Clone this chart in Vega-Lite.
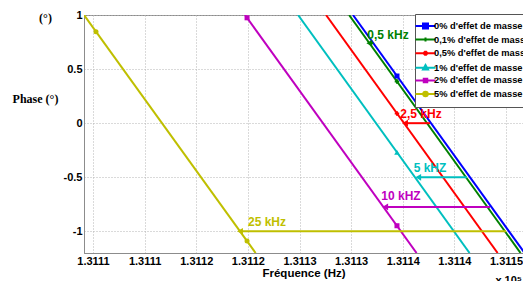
{
  "$schema": "https://vega.github.io/schema/vega-lite/v6.json",
  "autosize": "none",
  "width": 439,
  "height": 238,
  "padding": {"left": 84, "top": 15, "right": 0, "bottom": 28},
  "background": "white",
  "config": {
    "view": {"stroke": "#8c8c8c", "strokeWidth": 1},
    "axis": {
      "domainColor": "#8c8c8c",
      "gridColor": "#b4b4b4",
      "gridDash": [1, 2],
      "ticks": false,
      "labelFont": "Liberation Sans",
      "labelFontWeight": "bold",
      "labelFontSize": 11,
      "labelColor": "black",
      "titleColor": "black"
    },
    "legend": {
      "orient": "none",
      "legendX": 331,
      "legendY": -1,
      "title": null,
      "fillColor": "white",
      "strokeColor": "#555555",
      "padding": 6,
      "symbolSize": 100,
      "symbolStrokeWidth": 2,
      "symbolOffset": -1.5,
      "labelOffset": 2.5,
      "rowPadding": 0.6,
      "labelFont": "Liberation Sans",
      "labelFontWeight": "bold",
      "labelFontSize": 9.3,
      "labelColor": "black",
      "labelLimit": 200
    }
  },
  "datasets": {
    "lines": [
      {"series": "0% d'effet de masse", "freq": 131135.18, "phase": 1},
      {"series": "0% d'effet de masse", "freq": 131151.80, "phase": -1.2},
      {"series": "0,1% d'effet de masse", "freq": 131134.80, "phase": 1},
      {"series": "0,1% d'effet de masse", "freq": 131151.41, "phase": -1.2},
      {"series": "0,5% d'effet de masse", "freq": 131132.57, "phase": 1},
      {"series": "0,5% d'effet de masse", "freq": 131149.19, "phase": -1.2},
      {"series": "1% d'effet de masse", "freq": 131129.86, "phase": 1},
      {"series": "1% d'effet de masse", "freq": 131146.47, "phase": -1.2},
      {"series": "2% d'effet de masse", "freq": 131124.72, "phase": 1},
      {"series": "2% d'effet de masse", "freq": 131141.34, "phase": -1.2},
      {"series": "5% d'effet de masse", "freq": 131109.13, "phase": 1},
      {"series": "5% d'effet de masse", "freq": 131125.75, "phase": -1.2}
    ],
    "markers": [
      {"series": "0% d'effet de masse", "marker": "square", "freq": 131139.44, "phase": 0.436},
      {"series": "0,1% d'effet de masse", "marker": "cross", "freq": 131139.44, "phase": 0.385},
      {"series": "0,5% d'effet de masse", "marker": "cross", "freq": 131139.44, "phase": 0.09},
      {"series": "1% d'effet de masse", "marker": "triangle", "freq": 131139.44, "phase": -0.269},
      {"series": "2% d'effet de masse", "marker": "square", "freq": 131139.44, "phase": -0.948},
      {"series": "2% d'effet de masse", "marker": "square", "freq": 131124.92, "phase": 0.974},
      {"series": "5% d'effet de masse", "marker": "circle", "freq": 131110.29, "phase": 0.846},
      {"series": "5% d'effet de masse", "marker": "circle", "freq": 131124.92, "phase": -1.09}
    ],
    "arrows": [
      {"series": "0,1% d'effet de masse", "from": 131137.15, "to": 131136.76, "phase": 0.74, "label": "0,5 kHz", "lf": 131138.57, "lp": 0.815},
      {"series": "0,5% d'effet de masse", "from": 131142.64, "to": 131140.22, "phase": 0, "label": "2,5 kHz", "lf": 131141.77, "lp": 0.085},
      {"series": "1% d'effet de masse", "from": 131146.22, "to": 131141.5, "phase": -0.5, "label": "5 kHZ", "lf": 131142.64, "lp": -0.415},
      {"series": "2% d'effet de masse", "from": 131148.45, "to": 131138.3, "phase": -0.774, "label": "10 kHZ", "lf": 131139.83, "lp": -0.67},
      {"series": "5% d'effet de masse", "from": 131150.0, "to": 131124.24, "phase": -1.0, "label": "25 kHz", "lf": 131126.85, "lp": -0.914}
    ],
    "notes": [
      {"label": "(°)", "freq": 131109.128, "phase": 1},
      {"label": "x 10⁵", "freq": 131151.646, "phase": -1.2}
    ]
  },
  "layer": [
    {
      "data": {"name": "lines"},
      "mark": {"type": "line", "strokeWidth": 2, "clip": true},
      "encoding": {
        "x": {
          "field": "freq", "type": "quantitative",
          "scale": {"domain": [131109.128, 131151.646], "nice": false, "zero": false},
          "axis": {
            "values": [131110, 131115, 131120, 131125, 131130, 131135, 131140, 131145, 131150],
            "labelExpr": "format(floor(datum.value/10)/10000, '.4f')",
            "labelPadding": 2,
            "title": "Fréquence (Hz)",
            "titleFont": "Liberation Sans",
            "titleFontWeight": "bold",
            "titleFontSize": 11.5,
            "titleBaseline": "middle",
            "titleY": 20.5
          }
        },
        "y": {
          "field": "phase", "type": "quantitative",
          "scale": {"domain": [-1.2, 1], "nice": false, "zero": false},
          "axis": {
            "values": [-1, -0.5, 0, 0.5, 1],
            "labelExpr": "'' + datum.value",
            "labelPadding": 2,
            "title": "Phase (°)",
            "titleFont": "Liberation Serif",
            "titleFontWeight": "bold",
            "titleFontSize": 12,
            "titleAngle": 0,
            "titleAlign": "center",
            "titleBaseline": "middle",
            "titleX": -49,
            "titleY": 83
          }
        },
        "color": {
          "field": "series", "type": "nominal",
          "scale": {
            "domain": ["0% d'effet de masse", "0,1% d'effet de masse", "0,5% d'effet de masse", "1% d'effet de masse", "2% d'effet de masse", "5% d'effet de masse"],
            "range": ["#0000FF", "#008000", "#FF0000", "#00BFBF", "#BF00BF", "#BFBF00"]
          },
          "legend": {
            "symbolType": "M-2,0H2",
            "encode": {
              "symbols": {
                "update": {
                  "shape": {"signal": "['M-2,0H2M-0.5,-0.5H0.5V0.5H-0.5Z','M-2,0H2M0,-0.4V0.4','M-2,0H2M0,-0.5V0.5M-0.35,-0.35L0.35,0.35M-0.35,0.35L0.35,-0.35','M-2,0H2M0,-0.55L0.5,0.35H-0.5Z','M-2,0H2M-0.35,-0.35H0.35V0.35H-0.35Z','M-2,0H2M-0.45,0A0.45,0.45,0,1,0,0.45,0A0.45,0.45,0,1,0,-0.45,0Z'][datum.index]"},
                  "fill": {"scale": "color", "field": "value"},
                  "stroke": {"scale": "color", "field": "value"},
                  "strokeWidth": {"value": 2},
                  "size": {"value": 100}
                }
              }
            }
          }
        }
      }
    },
    {
      "data": {"name": "arrows"},
      "mark": {"type": "rule", "strokeWidth": 2},
      "encoding": {
        "x": {"field": "from", "type": "quantitative"},
        "x2": {"field": "to"},
        "y": {"field": "phase", "type": "quantitative"},
        "color": {"field": "series", "type": "nominal"}
      }
    },
    {
      "data": {"name": "arrows"},
      "mark": {"type": "point", "shape": "triangle-left", "filled": true, "size": 45, "opacity": 1},
      "encoding": {
        "x": {"field": "to", "type": "quantitative"},
        "y": {"field": "phase", "type": "quantitative"},
        "color": {"field": "series", "type": "nominal"}
      }
    },
    {
      "data": {"name": "arrows"},
      "mark": {"type": "text", "font": "Liberation Sans", "fontWeight": "bold", "fontSize": 12, "align": "center", "baseline": "middle"},
      "encoding": {
        "x": {"field": "lf", "type": "quantitative"},
        "y": {"field": "lp", "type": "quantitative"},
        "text": {"field": "label"},
        "color": {"field": "series", "type": "nominal"}
      }
    },
    {
      "data": {"name": "markers"},
      "transform": [{"filter": "datum.marker == 'square'"}],
      "mark": {"type": "point", "shape": "square", "filled": true, "size": 25, "opacity": 1},
      "encoding": {
        "x": {"field": "freq", "type": "quantitative"},
        "y": {"field": "phase", "type": "quantitative"},
        "color": {"field": "series", "type": "nominal"}
      }
    },
    {
      "data": {"name": "markers"},
      "transform": [{"filter": "datum.marker == 'cross'"}],
      "mark": {"type": "point", "shape": "M-1,0H1M0,-1V1", "filled": false, "size": 20, "strokeWidth": 2, "opacity": 1},
      "encoding": {
        "x": {"field": "freq", "type": "quantitative"},
        "y": {"field": "phase", "type": "quantitative"},
        "color": {"field": "series", "type": "nominal"}
      }
    },
    {
      "data": {"name": "markers"},
      "transform": [{"filter": "datum.marker == 'triangle'"}],
      "mark": {"type": "point", "shape": "triangle-up", "filled": true, "size": 30, "opacity": 1},
      "encoding": {
        "x": {"field": "freq", "type": "quantitative"},
        "y": {"field": "phase", "type": "quantitative"},
        "color": {"field": "series", "type": "nominal"}
      }
    },
    {
      "data": {"name": "markers"},
      "transform": [{"filter": "datum.marker == 'circle'"}],
      "mark": {"type": "point", "shape": "circle", "filled": true, "size": 25, "opacity": 1},
      "encoding": {
        "x": {"field": "freq", "type": "quantitative"},
        "y": {"field": "phase", "type": "quantitative"},
        "color": {"field": "series", "type": "nominal"}
      }
    },
    {
      "data": {"name": "notes"},
      "transform": [{"filter": "datum.label == '(°)'"}],
      "mark": {"type": "text", "font": "Liberation Serif", "fontWeight": "bold", "fontSize": 12, "align": "center", "baseline": "middle", "dx": -38.5, "dy": 3, "color": "black"},
      "encoding": {
        "x": {"field": "freq", "type": "quantitative"},
        "y": {"field": "phase", "type": "quantitative"},
        "text": {"field": "label"}
      }
    },
    {
      "data": {"name": "notes"},
      "transform": [{"filter": "datum.label != '(°)'"}],
      "mark": {"type": "text", "font": "Liberation Sans", "fontWeight": "bold", "fontSize": 11, "align": "right", "baseline": "top", "dx": -1, "dy": 22, "color": "black"},
      "encoding": {
        "x": {"field": "freq", "type": "quantitative"},
        "y": {"field": "phase", "type": "quantitative"},
        "text": {"field": "label"}
      }
    }
  ]
}
